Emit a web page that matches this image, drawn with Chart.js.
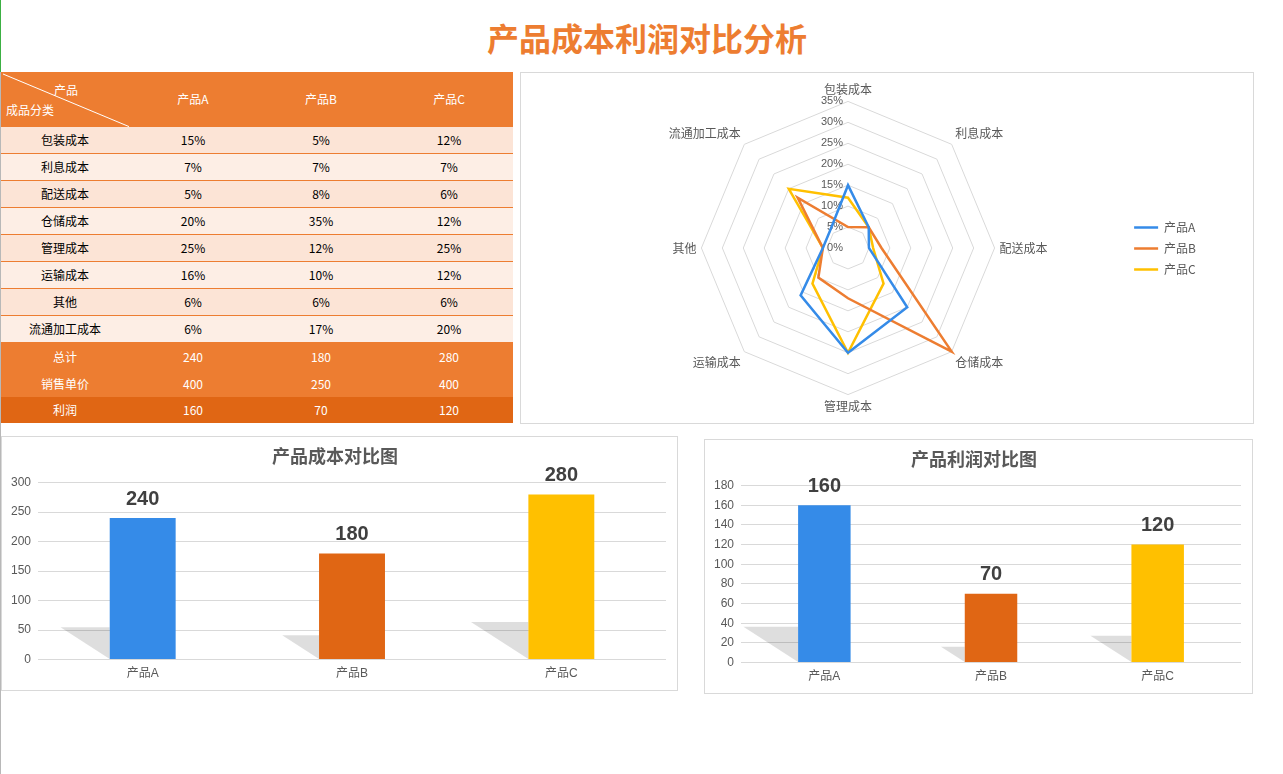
<!DOCTYPE html>
<html lang="zh">
<head>
<meta charset="utf-8">
<title>产品成本利润对比分析</title>
<script src="https://cdn.jsdelivr.net/npm/chart.js@4.4.1/dist/chart.umd.min.js"></script>
<style>
  body { margin:0; width:1283px; height:774px; background:#fff; position:relative; overflow:hidden;
         font-family:"Noto Sans CJK SC","Liberation Sans",sans-serif; }
  .edge-g { position:absolute; left:0; top:0; width:1px; height:72px; background:#3cb043; }
  .edge { position:absolute; left:0; top:72px; width:1px; height:702px; background:#b8b8b8; }
  .title { position:absolute; left:347px; top:17px; width:600px; text-align:center; font-size:32px;
           line-height:40px; font-weight:bold; color:#ED7D31; }
  .tbl { position:absolute; left:1px; top:72px; width:512px; font-size:12px; }
  .row { display:flex; box-sizing:border-box; }
  .row div { width:128px; text-align:center; }
  .hd { height:55px; background:#ED7D31; color:#fff; position:relative; }
  .hd div { line-height:54px; }
  .hd svg { position:absolute; left:0; top:0; }
  .hd .c1 { position:absolute; left:53px; top:10px; line-height:16px; width:auto; }
  .hd .c2 { position:absolute; left:5px; top:30px; line-height:16px; width:auto; }
  .body { height:27px; line-height:26px; border-bottom:1px solid #ED7D31; color:#000; }
  .body.odd { background:#FCE4D6; }
  .body.even { background:#FDEEE5; }
  .sum { height:27px; line-height:27px; background:#ED7D31; color:#fff; }
  .profit { height:26px; line-height:26px; background:#E06614; color:#fff; }
  .panel { position:absolute; border:1px solid #d9d9d9; box-sizing:border-box; }
  .panel canvas { position:absolute; left:0; top:0; }
</style>
</head>
<body>
<div class="edge-g"></div>
<div class="edge"></div>
<div class="title">产品成本利润对比分析</div>
<div class="tbl" id="tbl"></div>

<div class="panel" style="left:520px;top:72px;width:734px;height:352px;">
  <canvas id="radar" width="732" height="350"></canvas>
</div>
<div class="panel" style="left:1px;top:436px;width:677px;height:255px;">
  <canvas id="costBar" width="675" height="253"></canvas>
</div>
<div class="panel" style="left:704px;top:439px;width:549px;height:255px;">
  <canvas id="profitBar" width="547" height="253"></canvas>
</div>

<script>
// 数据
const products   = ['产品A', '产品B', '产品C'];
const costItems  = ['包装成本', '利息成本', '配送成本', '仓储成本', '管理成本', '运输成本', '其他', '流通加工成本'];
const shareA     = [15, 7, 5, 20, 25, 16, 6, 6];
const shareB     = [5, 7, 8, 35, 12, 10, 6, 17];
const shareC     = [12, 7, 6, 12, 25, 12, 6, 20];
const totals     = [240, 180, 280];
const prices     = [400, 250, 400];
const profits    = [160, 70, 120];

const lineColors = ['#358BE8', '#ED7D31', '#FFC000'];
const barColors  = ['#358BE8', '#E06614', '#FFC000'];
const grey = '#595959';

Chart.defaults.font.family = '"Liberation Sans", "Noto Sans CJK SC", sans-serif';
Chart.defaults.color = grey;

// ---- 表格 ----
const shares = [shareA, shareB, shareC];
let html = '<div class="row hd"><svg width="128" height="55"><line x1="2" y1="2" x2="129" y2="55" stroke="#fff" stroke-width="1"/></svg>' +
  '<span class="c1">产品</span><span class="c2">成品分类</span><div></div>' +
  products.map(p => '<div>' + p + '</div>').join('') + '</div>';
costItems.forEach((item, i) => {
  html += '<div class="row body ' + (i % 2 ? 'even' : 'odd') + '"><div>' + item + '</div>' +
    shares.map(s => '<div>' + s[i] + '%</div>').join('') + '</div>';
});
html += '<div class="row sum"><div>总计</div>' + totals.map(v => '<div>' + v + '</div>').join('') + '</div>';
html += '<div class="row sum"><div>销售单价</div>' + prices.map(v => '<div>' + v + '</div>').join('') + '</div>';
html += '<div class="row profit"><div>利润</div>' + profits.map(v => '<div>' + v + '</div>').join('') + '</div>';
document.getElementById('tbl').innerHTML = html;

// ---- 雷达图 ----
const radarTicks = {
  id: 'radarTicks',
  beforeDatasetsDraw(chart) {
    const s = chart.scales.r, ctx = chart.ctx;
    ctx.save();
    ctx.font = '11px "Liberation Sans", sans-serif';
    ctx.fillStyle = grey;
    ctx.textAlign = 'right';
    ctx.textBaseline = 'middle';
    s.ticks.forEach(t => {
      const d = s.getDistanceFromCenterForValue(t.value);
      ctx.fillText(t.value + '%', s.xCenter - 5, s.yCenter - d);
    });
    ctx.restore();
  }
};

new Chart(document.getElementById('radar'), {
  type: 'radar',
  data: {
    labels: costItems,
    datasets: products.map((p, i) => ({
      label: p, data: shares[i], borderColor: lineColors[i], backgroundColor: 'transparent',
      borderWidth: 2.5, pointRadius: 0, fill: false
    }))
  },
  options: {
    responsive: false, animation: false,
    layout: { padding: { left: 50, right: 47, top: 9, bottom: 8 } },
    plugins: {
      legend: { position: 'right', labels: { usePointStyle: true, pointStyle: 'line', pointStyleWidth: 24,
                padding: 9, color: grey, font: { size: 12, family: '"Noto Sans CJK SC", sans-serif' } } },
      tooltip: { enabled: false }
    },
    scales: {
      r: {
        min: 0, max: 35,
        ticks: { stepSize: 5, display: false },
        grid: { color: '#d9d9d9' },
        angleLines: { display: false },
        pointLabels: { color: grey, font: { size: 12, family: '"Noto Sans CJK SC", sans-serif' } }
      }
    }
  },
  plugins: [radarTicks]
});

// ---- 柱形图 ----
const barDeco = {
  id: 'barDeco',
  beforeDatasetsDraw(chart) {
    const ctx = chart.ctx;
    ctx.save();
    ctx.fillStyle = 'rgba(0,0,0,0.13)';
    chart.getDatasetMeta(0).data.forEach(bar => {
      const h = (bar.base - bar.y) * 0.225, left = bar.x - bar.width / 2;
      ctx.beginPath();
      ctx.moveTo(left - h * 1.55, bar.base - h);
      ctx.lineTo(left, bar.base - h);
      ctx.lineTo(left, bar.base);
      ctx.closePath();
      ctx.fill();
    });
    ctx.restore();
  },
  afterDatasetsDraw(chart) {
    const ctx = chart.ctx, vals = chart.data.datasets[0].data;
    ctx.save();
    ctx.font = 'bold 20px "Liberation Sans", sans-serif';
    ctx.fillStyle = '#404040';
    ctx.textAlign = 'center';
    ctx.textBaseline = 'middle';
    chart.getDatasetMeta(0).data.forEach((bar, i) => ctx.fillText(vals[i], bar.x, bar.y - 19));
    ctx.restore();
  }
};

function barChart(id, values, max, step, title) {
  return new Chart(document.getElementById(id), {
    type: 'bar',
    data: { labels: products, datasets: [{ data: values, backgroundColor: barColors,
            barPercentage: 0.315, categoryPercentage: 1 }] },
    options: {
      responsive: false, animation: false,
      layout: { padding: { left: 2, right: 11, top: 0, bottom: 2 } },
      plugins: {
        legend: { display: false }, tooltip: { enabled: false },
        title: { display: true, text: title, color: grey,
                 font: { size: 18, weight: 'bold', family: '"Noto Sans CJK SC", sans-serif' },
                 padding: { top: 8, bottom: 16 } }
      },
      scales: {
        x: { grid: { display: false, drawTicks: false }, border: { display: false },
             ticks: { color: grey, font: { size: 12 }, padding: 7 } },
        y: { min: 0, max: max, ticks: { stepSize: step, color: grey, font: { size: 12 }, padding: 7 },
             grid: { color: '#d9d9d9', drawTicks: false }, border: { display: false } }
      }
    },
    plugins: [barDeco]
  });
}

barChart('costBar', totals, 300, 50, '产品成本对比图');
barChart('profitBar', profits, 180, 20, '产品利润对比图');
</script>
</body>
</html>
